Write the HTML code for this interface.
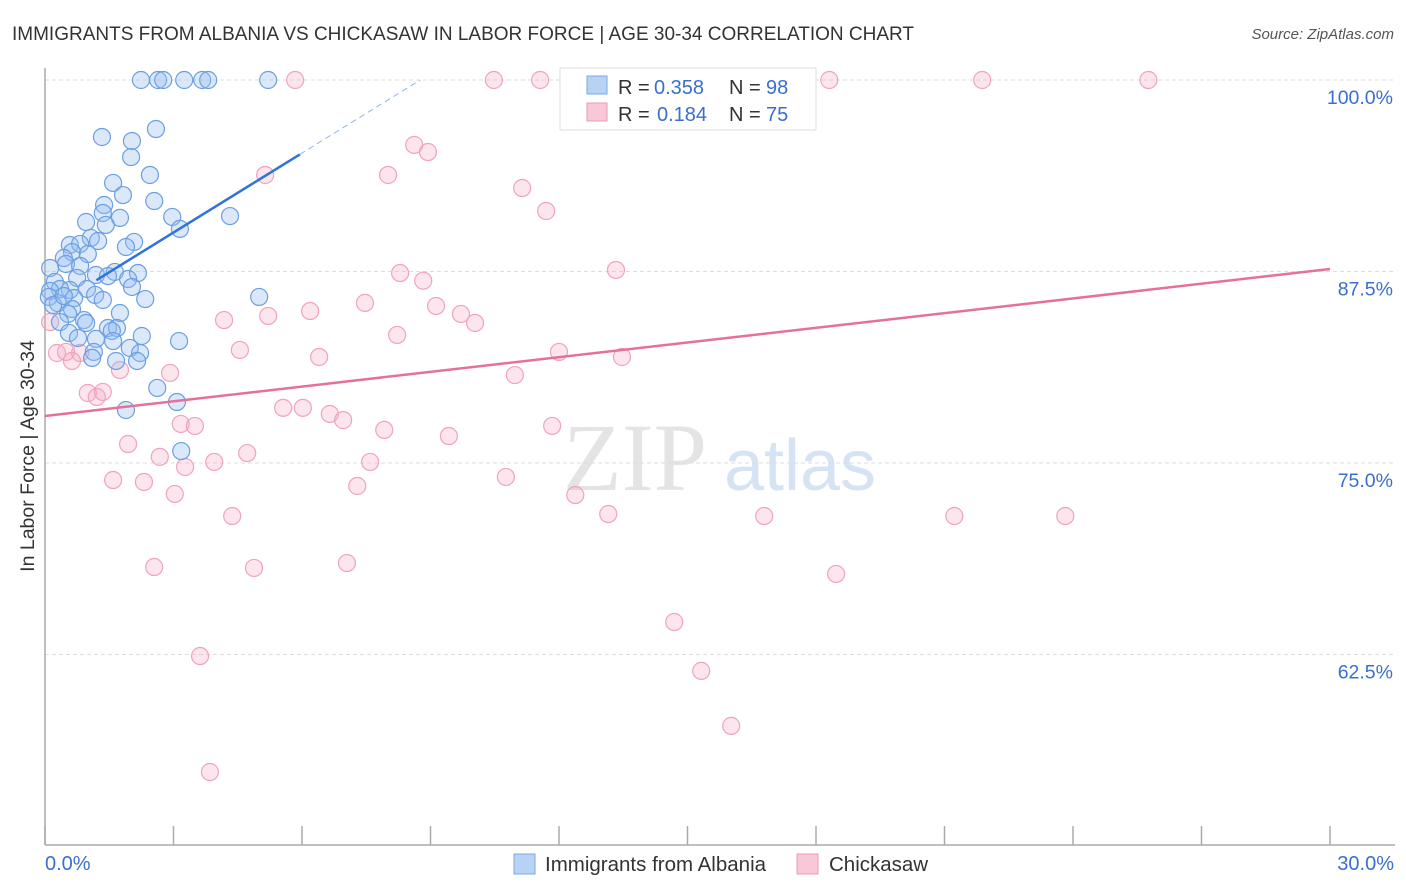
<!DOCTYPE html>
<html><head><meta charset="utf-8">
<style>
body{margin:0;background:#fff;font-family:"Liberation Sans",sans-serif;}
#wrap{position:relative;width:1406px;height:892px;overflow:hidden;}
</style></head>
<body>
<div id="wrap">
<svg id="chart" width="1406" height="892" xmlns="http://www.w3.org/2000/svg">
<text x="12" y="40" font-size="19" fill="#333">IMMIGRANTS FROM ALBANIA VS CHICKASAW IN LABOR FORCE | AGE 30-34 CORRELATION CHART</text>
<text x="1394" y="39" font-size="15" fill="#555" font-style="italic" text-anchor="end">Source: ZipAtlas.com</text>
<text x="34" y="456" font-size="19.5" fill="#333" text-anchor="middle" transform="rotate(-90 34 456)">In Labor Force | Age 30-34</text>
<g>
<text x="635" y="490" font-size="96" fill="#e4e4e4" font-family="Liberation Serif,serif" text-anchor="middle">ZIP</text>
<text x="800" y="490" font-size="72" fill="#d6e3f5" text-anchor="middle">atlas</text>
</g>
<g id="grid"></g><g id="axes"></g><g id="pink"></g><g id="blue"></g><g id="trends"></g>
<g font-size="20">
<rect x="560" y="68" width="256" height="62" fill="#fff" stroke="#ddd"/>
<rect x="587" y="76" width="20" height="18" fill="#b8d2f4" stroke="#7aa8e4"/>
<text x="618" y="94" fill="#333">R =</text><text x="654" y="94" fill="#3a6fd0">0.358</text>
<text x="729" y="94" fill="#333">N =</text><text x="766" y="94" fill="#3a6fd0">98</text>
<rect x="587" y="103" width="20" height="18" fill="#f8c8d8" stroke="#ee9ab6"/>
<text x="618" y="121" fill="#333">R =</text><text x="657" y="121" fill="#3a6fd0">0.184</text>
<text x="729" y="121" fill="#333">N =</text><text x="766" y="121" fill="#3a6fd0">75</text>
</g>
<g>
<rect x="514" y="854" width="21" height="20" fill="#b8d2f4" stroke="#7aa8e4"/>
<text x="545" y="871" font-size="20.5" fill="#333">Immigrants from Albania</text>
<rect x="797" y="854" width="21" height="20" fill="#f8c8d8" stroke="#ee9ab6"/>
<text x="829" y="871" font-size="20.5" fill="#333">Chickasaw</text>
</g>
</svg>
</div>
<script>
const yTicks=[100,87.5,75,62.5];
const yTickLabels=["100.0%","87.5%","75.0%","62.5%"];
const xTickCount=10;
const xLabels=["0.0%","30.0%"];
const blueX=[2.24,2.64,2.76,3.25,3.67,3.81,5.21,2.59,1.33,2.03,2.01,2.45,1.59,1.82,2.55,1.38,1.35,1.75,2.97,4.32,0.96,1.42,3.15,1.07,1.24,2.08,1.89,0.58,0.82,0.63,1.0,0.44,0.49,0.82,0.12,1.63,2.17,1.19,1.47,1.94,0.75,0.23,2.03,0.98,0.58,0.35,0.12,0.09,1.17,1.35,0.68,2.34,5.0,0.3,0.19,0.63,0.54,1.75,0.91,0.35,0.96,1.47,1.68,1.56,2.26,0.56,0.77,1.19,1.59,3.13,1.98,1.14,2.22,1.1,1.66,2.15,2.62,3.08,1.89,3.18,0.44];
const blueY=[100,100,100,100,100,100,100,96.8,96.28,96.02,94.97,93.8,93.28,92.49,92.1,91.84,91.32,91.0,91.06,91.12,90.73,90.54,90.28,89.69,89.49,89.43,89.1,89.23,89.3,88.77,88.64,88.38,87.99,87.86,87.73,87.47,87.4,87.27,87.2,87.01,87.08,86.82,86.49,86.36,86.29,86.36,86.23,85.84,85.97,85.64,85.77,85.7,85.84,85.44,85.31,85.05,84.73,84.79,84.33,84.2,84.14,83.81,83.81,83.62,83.29,83.49,83.16,83.1,82.96,82.96,82.51,82.25,82.18,81.86,81.66,81.66,79.9,78.98,78.46,75.78,85.9];
const pinkX=[5.84,10.48,11.56,16.58,18.31,21.88,25.76,8.62,8.94,5.14,8.01,11.14,11.7,13.33,8.29,8.83,7.47,9.13,6.19,5.21,4.18,9.71,10.04,8.22,4.55,6.4,12.0,13.47,0.28,0.49,0.82,0.63,1.75,2.92,10.97,1.0,1.21,1.35,5.56,6.02,6.65,6.96,3.17,3.5,7.92,9.43,11.84,1.94,2.68,4.72,3.95,3.27,7.59,1.59,2.31,10.76,7.29,3.03,12.38,4.37,13.15,16.79,21.23,23.82,2.55,4.88,7.05,18.47,14.69,3.62,15.32,16.02,3.85,0.12];
const pinkY=[100,100,100,100,100,100,100,95.76,95.3,93.8,93.8,92.95,91.45,87.6,87.4,86.9,85.45,85.25,84.92,84.6,84.33,84.73,84.14,83.36,82.38,81.92,82.25,81.92,82.18,82.25,82.18,81.66,81.07,80.88,80.74,79.57,79.31,79.64,78.6,78.6,78.2,77.8,77.55,77.42,77.16,76.76,77.42,76.24,75.4,75.65,75.07,74.74,75.07,73.89,73.76,74.09,73.5,72.98,72.91,71.54,71.67,71.54,71.54,71.54,68.21,68.15,68.47,67.76,64.62,62.4,61.43,57.84,54.83,84.2];
const blueTrend=[[0,84.86],[8.76,100]];
const pinkTrend=[[0,78.07],[30,87.66]];

const NS="http://www.w3.org/2000/svg";
const X0=45,X1=1330,Y100=80,PXPER=15.32;
function sx(v){return X0+v/30*(X1-X0);}
function sy(v){return Y100+(100-v)*PXPER;}
function mk(tag,attrs,parent){const e=document.createElementNS(NS,tag);for(const k in attrs)e.setAttribute(k,attrs[k]);document.getElementById(parent).appendChild(e);return e;}

yTicks.forEach((t,i)=>{
  const l=mk('line',{x1:X0,x2:1393,y1:sy(t),y2:sy(t),stroke:'#ddd','stroke-dasharray':'4 3'},'grid');
  
  
  const tx=mk('text',{x:1393,y:sy(t)+24,'font-size':19.5,fill:'#3a6fd0','text-anchor':'end'},'grid');
  tx.textContent=yTickLabels[i];
  
  
});
const ya=mk('line',{x1:X0,x2:X0,y1:68,y2:845,stroke:'#aaa','stroke-width':1.5},'axes');


const xa=mk('line',{x1:X0,x2:1395,y1:845,y2:845,stroke:'#aaa','stroke-width':1.5},'axes');


for(let i=0;i<=xTickCount;i++){
  const x=sx(i*30/xTickCount);
  const t=mk('line',{x1:x,x2:x,y1:826,y2:845,stroke:'#aaa','stroke-width':1.5},'axes');
  
  
}
const xl0=mk('text',{x:45,y:870,'font-size':20,fill:'#3a6fd0'},'axes');xl0.textContent=xLabels[0];


const xl1=mk('text',{x:1394,y:870,'font-size':20,fill:'#3a6fd0','text-anchor':'end'},'axes');xl1.textContent=xLabels[1];



pinkX.forEach((v,i)=>{
  const c=mk('circle',{cx:sx(v),cy:sy(pinkY[i]),r:8.5,fill:'rgba(244,170,196,0.3)',stroke:'#efa3be','stroke-width':1.2},'pink');
  
  
});
blueX.forEach((v,i)=>{
  const c=mk('circle',{cx:sx(v),cy:sy(blueY[i]),r:8.5,fill:'rgba(150,190,240,0.35)',stroke:'#6c9fe2','stroke-width':1.2},'blue');
  
  
});
const bxs=1.2,bxe=5.95;
function by(x){return blueTrend[0][1]+(blueTrend[1][1]-blueTrend[0][1])*(x-blueTrend[0][0])/(blueTrend[1][0]-blueTrend[0][0]);}
const bl=mk('line',{x1:sx(bxs),y1:sy(by(bxs)),x2:sx(bxe),y2:sy(by(bxe)),stroke:'#2f74d8','stroke-width':2.5},'trends');


const bd=mk('line',{x1:sx(bxe),y1:sy(by(bxe)),x2:sx(blueTrend[1][0]),y2:sy(blueTrend[1][1]),stroke:'#8fb4ea','stroke-width':1,'stroke-dasharray':'6 4'},'trends');


const pl=mk('line',{x1:sx(pinkTrend[0][0]),y1:sy(pinkTrend[0][1]),x2:sx(pinkTrend[1][0]),y2:sy(pinkTrend[1][1]),stroke:'#e5709a','stroke-width':2.5},'trends');


</script>
</body></html>
